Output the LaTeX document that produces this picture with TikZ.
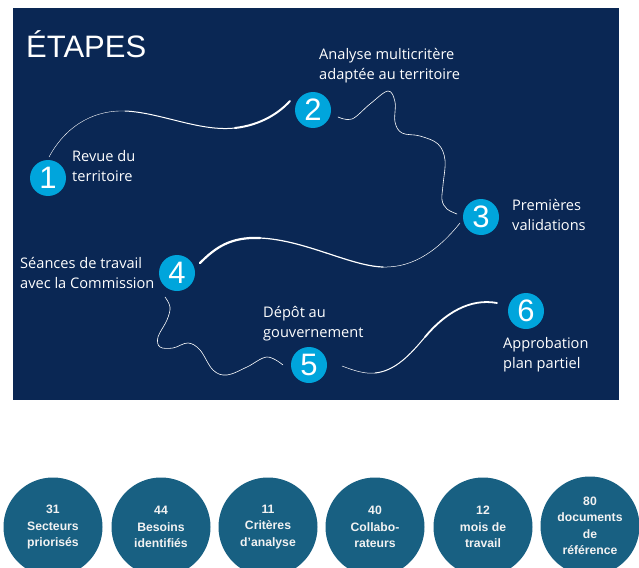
\documentclass[tikz,border=0pt]{standalone}
\usepackage{fontspec}
\setmainfont{Open Sans}
\newfontfamily\arialf{Liberation Sans}
\definecolor{navy}{HTML}{0A2754}
\definecolor{cyanc}{HTML}{00A5DC}
\definecolor{tealc}{HTML}{186082}
\definecolor{offw}{HTML}{F2F2F2}
\begin{document}
\begin{tikzpicture}[x=1pt,y=-1pt,
  lbl/.style={anchor=base west,text=white,inner sep=0pt,font=\fontsize{14.6}{20}\selectfont},
  stepc/.style={circle,fill=cyanc,text=white,minimum size=36pt,inner sep=0pt,font=\arialf\fontsize{31}{31}\selectfont},
  statc/.style={circle,fill=tealc,text=offw,minimum size=99pt,inner sep=0pt,align=center,font=\arialf\bfseries\fontsize{12.2}{16.5}\selectfont},
  wire/.style={draw=white,line cap=round}]
\clip (0,0) rectangle (639,567);
\fill[white] (0,0) rectangle (639,567);
\fill[navy] (13,8) rectangle (619,400);
\node[anchor=base west,text=white,inner sep=0pt,font=\arialf\fontsize{31}{31}\selectfont] (title) at (26,58) {ÉTAPES};
% step circles
\node[stepc] (s1) at (48,178) {1};
\node[stepc] (s2) at (313,110) {2};
\node[stepc] (s3) at (481,217) {3};
\node[stepc] (s4) at (177,273) {4};
\node[stepc] (s5) at (309,365) {5};
\node[stepc] (s6) at (526,311) {6};
% labels
\node[lbl] (l1a) at (72,161) {Revue du};
\node[lbl] (l1b) at (72,181) {territoire};
\node[lbl] (l2a) at (319,60) {Analyse multicritère};
\node[lbl] (l2b) at (319,80) {adaptée au territoire};
\node[lbl] (l3a) at (512,210) {Premières};
\node[lbl] (l3b) at (512,230) {validations};
\node[lbl] (l4a) at (20,268) {Séances de travail};
\node[lbl] (l4b) at (20,288) {avec la Commission};
\node[lbl] (l5a) at (263,317) {Dépôt au};
\node[lbl] (l5b) at (263,337) {gouvernement};
\node[lbl] (l6a) at (503,348) {Approbation};
\node[lbl] (l6b) at (503,368) {plan partiel};
% curve 1 -> 2 (tapered)
\coordinate (a0) at (49,157);
\coordinate (a1) at (125,111);
\coordinate (a2) at (235,128);
\coordinate (a3) at (290,101);
\draw[wire,line width=0.4pt] (a0) .. controls (68,122) and (98,110) .. (a1);
\draw[wire,line width=1pt] (a1) .. controls (160,112.4) and (200,132) .. (a2);
\draw[wire,line width=2pt] (a2) .. controls (262,124.9) and (280,112) .. (a3);
% curve 2 -> 3
\draw[wire,line width=0.6pt] plot[smooth,tension=0.6] coordinates {(338,117) (352,119) (370,104) (388,91) (395,102) (395,122) (402,133) (420,136) (438,144) (445,160) (443,185) (442,200) (447,209) (457,214)};
% curve 3 -> 4 (tapered)
\coordinate (c0) at (460,223);
\coordinate (c1) at (383,267);
\coordinate (c2) at (260,238);
\coordinate (c3) at (200,263);
\draw[wire,line width=0.5pt] (c0) .. controls (440,248) and (415,268) .. (c1);
\draw[wire,line width=1.2pt] (c1) .. controls (350,266) and (305,240) .. (c2);
\draw[wire,line width=2.2pt] (c2) .. controls (230,236.7) and (215,248) .. (c3);
% curve 4 -> 5
\draw[wire,line width=0.6pt] plot[smooth,tension=0.6] coordinates {(165,297) (170,307) (167,320) (158,337) (160,347) (173,348) (188,343) (200,350) (213,370) (227,375) (247,367) (267,357) (283,365)};
% curve 5 -> 6 (tapered)
\coordinate (e0) at (342,366);
\coordinate (e1) at (375,373);
\coordinate (e2) at (425,337);
\coordinate (e3) at (497,303);
\draw[wire,line width=0.5pt] (e0) .. controls (355,371) and (365,374) .. (e1);
\draw[wire,line width=1pt] (e1) .. controls (395,371) and (410,355) .. (e2);
\draw[wire,line width=1.8pt] (e2) .. controls (445,313) and (470,298) .. (e3);
% statistic circles
\node[statc] (b1) at (53,527) {31\\Secteurs\\priorisés};
\node[statc] (b2) at (161,527) {44\\Besoins\\identifiés};
\node[statc] (b3) at (268,527) {11\\Critères\\d’analyse};
\node[statc] (b4) at (375,527) {40\\Collabo-\\rateurs};
\node[statc] (b5) at (483,527) {12\\mois de\\travail};
\node[statc] (b6) at (590,526) {80\\documents\\de\\référence};
\end{tikzpicture}
\end{document}
